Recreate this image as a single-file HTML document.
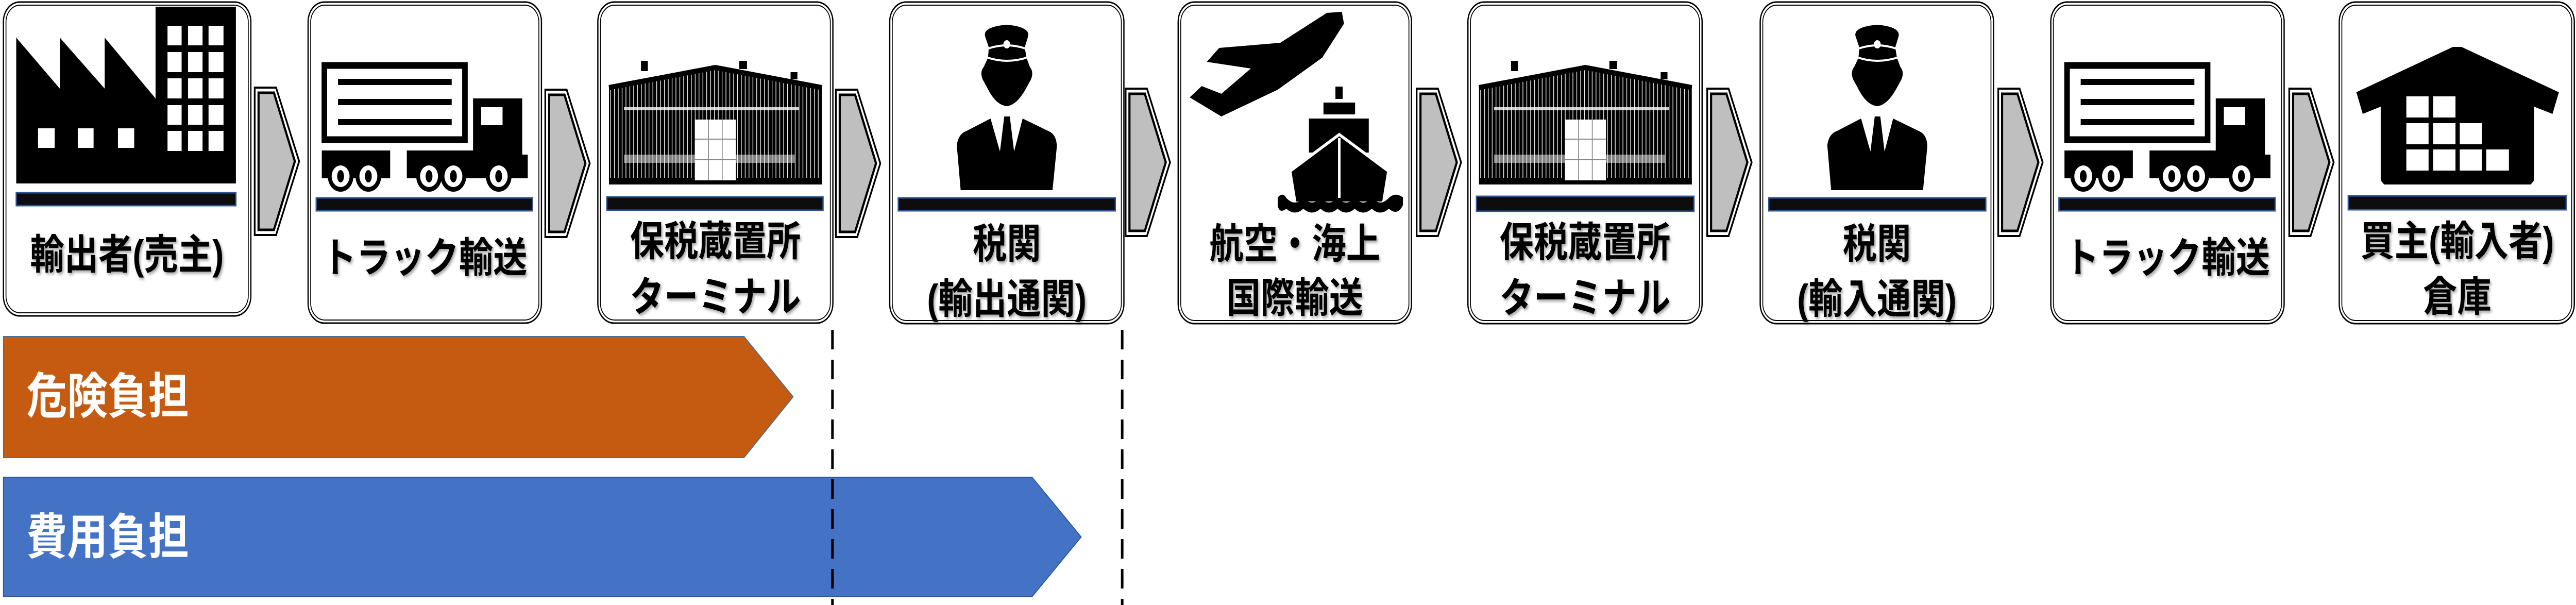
<!DOCTYPE html>
<html><head><meta charset="utf-8"><style>
html,body{margin:0;padding:0;background:#fff;overflow:hidden;width:100%;height:100%;}
svg{display:block;position:absolute;left:0;top:0;width:100vw;height:100vh;}
.t{font-family:"Liberation Sans","Noto Sans CJK JP",sans-serif;font-weight:bold;font-size:80px;fill:#000;text-anchor:middle;}
.w{font-family:"Liberation Sans","Noto Sans CJK JP",sans-serif;font-weight:bold;font-size:95px;fill:#fff;}
</style></head><body>
<svg viewBox="0 0 6028 1174" preserveAspectRatio="none" xmlns="http://www.w3.org/2000/svg">
<defs>
<filter id="sh" x="-10%" y="-10%" width="130%" height="130%"><feDropShadow dx="3" dy="4" stdDeviation="3" flood-color="#000" flood-opacity="0.35"/></filter>
<pattern id="stripe" width="9" height="10" patternUnits="userSpaceOnUse"><rect width="9" height="10" fill="#000"/><rect x="6" width="1.5" height="10" fill="#fff"/></pattern>
<g id="arrow">
<polygon points="0,0 50,0 104,143 50,286 0,286" fill="#fff" stroke="#000" stroke-width="4"/>
<polygon points="9,10 45,10 94,143 45,276 9,276" fill="#bfbfbf" stroke="#000" stroke-width="5"/>
</g>
<g id="officer">
<path d="M2305,70 Q2300,52 2356,48 Q2410,52 2406,70 L2398,92 Q2356,82 2314,92 Z" fill="#000"/>
<path d="M2314,92 Q2356,82 2398,92 L2402,112 Q2356,122 2312,112 Z" fill="#000"/>
<path d="M2312,112 Q2356,122 2402,112 L2410,130 Q2420,140 2412,155 L2402,170 Q2380,204 2356,206 Q2330,204 2310,170 L2300,155 Q2292,140 2302,130 Z" fill="#000"/>
<path d="M2313,94 Q2356,82 2399,94" fill="none" stroke="#fff" stroke-width="4"/>
<path d="M2312,112 Q2356,124 2402,112" fill="none" stroke="#fff" stroke-width="4"/>
<circle cx="2356" cy="86" r="8" fill="#fff"/>
<path d="M2239,282 Q2242,260 2262,254 L2318,230 L2340,294 L2350,226 L2363,226 L2373,294 L2393,230 L2455,255 Q2473,262 2473,285 L2463,369 L2248,369 Z" fill="#000"/>
</g>
<g id="wh">
<polygon points="1425,168 1674,131 1923,168 1923,358 1425,358" fill="url(#stripe)"/>
<polyline points="1425,170 1674,131 1923,170" fill="none" stroke="#000" stroke-width="10"/>
<rect x="1500" y="118" width="16" height="20" fill="#000"/><rect x="1730" y="118" width="18" height="16" fill="#000"/><rect x="1850" y="140" width="16" height="14" fill="#000"/>
<rect x="1425" y="345" width="498" height="13" fill="#000"/>
<g fill="#fff"><rect x="1460" y="208" width="410" height="6" opacity=".8"/><rect x="1460" y="300" width="400" height="16" opacity=".5"/></g>
<rect x="1626" y="232" width="96" height="118" fill="#fff"/>
<g stroke="#888" stroke-width="2"><line x1="1658" y1="232" x2="1658" y2="350"/><line x1="1690" y1="232" x2="1690" y2="350"/><line x1="1626" y1="270" x2="1722" y2="270"/><line x1="1626" y1="310" x2="1722" y2="310"/></g>
</g>
<g id="truck">
<rect x="759" y="127" width="329" height="144" fill="#fff" stroke="#000" stroke-width="13"/>
<rect x="791" y="153" width="266" height="12" fill="#000"/><rect x="791" y="192" width="266" height="12" fill="#000"/><rect x="791" y="231" width="266" height="12" fill="#000"/>
<path d="M1107,191 L1222,191 L1222,300 L1235,300 L1235,346 L952,346 L952,292 L1107,292 Z" fill="#000"/>
<rect x="1126" y="208" width="50" height="35" fill="#fff"/>
<rect x="753" y="292" width="160" height="54" fill="#000"/>
<g><circle cx="797" cy="342" r="30" fill="#000"/><circle cx="797" cy="342" r="21" fill="#fff"/><ellipse cx="797" cy="342" rx="8" ry="12" fill="#000"/></g>
<g><circle cx="862" cy="342" r="30" fill="#000"/><circle cx="862" cy="342" r="21" fill="#fff"/><ellipse cx="862" cy="342" rx="8" ry="12" fill="#000"/></g>
<g><circle cx="1004" cy="342" r="30" fill="#000"/><circle cx="1004" cy="342" r="21" fill="#fff"/><ellipse cx="1004" cy="342" rx="8" ry="12" fill="#000"/></g>
<g><circle cx="1061" cy="342" r="30" fill="#000"/><circle cx="1061" cy="342" r="21" fill="#fff"/><ellipse cx="1061" cy="342" rx="8" ry="12" fill="#000"/></g>
<g><circle cx="1167" cy="342" r="30" fill="#000"/><circle cx="1167" cy="342" r="21" fill="#fff"/><ellipse cx="1167" cy="342" rx="8" ry="12" fill="#000"/></g>
</g>
</defs>

<g fill="#fff" stroke="#000">
<g stroke-width="3"><rect x="8" y="4" width="579" height="609" rx="38"/><rect x="721" y="4" width="546" height="623" rx="38"/><rect x="1399" y="4" width="550" height="623" rx="38"/><rect x="2082" y="4" width="548" height="624" rx="38"/><rect x="2757" y="4" width="546" height="624" rx="38"/><rect x="3435" y="4" width="548" height="624" rx="38"/><rect x="4119" y="4" width="546" height="624" rx="38"/><rect x="4799" y="4" width="546" height="624" rx="38"/><rect x="5474" y="4" width="550" height="624" rx="38"/></g>
<g stroke-width="2"><rect x="14" y="10" width="567" height="597" rx="33"/><rect x="727" y="10" width="534" height="611" rx="33"/><rect x="1405" y="10" width="538" height="611" rx="33"/><rect x="2088" y="10" width="536" height="612" rx="33"/><rect x="2763" y="10" width="534" height="612" rx="33"/><rect x="3441" y="10" width="536" height="612" rx="33"/><rect x="4125" y="10" width="534" height="612" rx="33"/><rect x="4805" y="10" width="534" height="612" rx="33"/><rect x="5480" y="10" width="538" height="612" rx="33"/></g>
</g>

<g fill="#0d0d0d" stroke="#2f5597" stroke-width="3">
<rect x="38" y="374" width="514" height="25"/>
<rect x="740" y="384" width="506" height="25"/>
<rect x="1420" y="382" width="506" height="26"/>
<rect x="2102" y="384" width="508" height="25"/>
<rect x="3455" y="381" width="509" height="29"/>
<rect x="4139" y="384" width="508" height="25"/>
<rect x="4818" y="384" width="506" height="25"/>
<rect x="5495" y="380" width="510" height="27"/>
</g>

<path d="M38,356 L38,73 L140,172 L140,73 L245,172 L245,73 L364,191 L364,13 L552,13 L552,356 Z" fill="#000"/>
<g fill="#fff">
<rect x="392" y="50" width="33" height="38"/><rect x="440" y="50" width="34" height="38"/><rect x="488" y="50" width="35" height="38"/>
<rect x="392" y="101" width="33" height="39"/><rect x="440" y="101" width="34" height="39"/><rect x="488" y="101" width="35" height="39"/>
<rect x="392" y="152" width="33" height="39"/><rect x="440" y="152" width="34" height="39"/><rect x="488" y="152" width="35" height="39"/>
<rect x="392" y="204" width="33" height="38"/><rect x="440" y="204" width="34" height="38"/><rect x="488" y="204" width="35" height="38"/>
<rect x="392" y="254" width="33" height="39"/><rect x="440" y="254" width="34" height="39"/><rect x="488" y="254" width="35" height="39"/>
<rect x="89" y="249" width="39" height="38"/><rect x="182" y="249" width="37" height="38"/><rect x="276" y="249" width="38" height="38"/>
</g>

<use href="#truck"/>
<use href="#truck" transform="translate(4078,0)"/>
<use href="#wh"/>
<use href="#wh" transform="translate(2036,0)"/>
<use href="#officer"/>
<use href="#officer" transform="translate(2037,0)"/>

<polygon points="2784,189 2812,167 2858,182 2927,133 2824,120 2853,93 2996,83 3105,25 3140,23 3145,46 3094,112 2990,174 2858,226" fill="#000"/>
<rect x="3125" y="168" width="17" height="24" fill="#000"/>
<rect x="3097" y="199" width="74" height="23" fill="#000"/>
<rect x="3063" y="230" width="140" height="66" fill="#000"/>
<polygon points="3134,261 3249,332 3237,394 3031,394 3019,332" fill="#000" stroke="#fff" stroke-width="6"/>
<line x1="3134" y1="268" x2="3134" y2="384" stroke="#fff" stroke-width="6"/>
<path d="M2990,383 Q3002,372 3010,384 Q3030,402 3050,384 Q3070,402 3090,384 Q3110,402 3130,384 Q3150,402 3170,384 Q3190,402 3210,384 Q3230,402 3250,384 Q3265,372 3283,383 L3283,398 Q3270,420 3250,405 Q3230,420 3210,405 Q3190,420 3170,405 Q3150,420 3130,405 Q3110,420 3090,405 Q3070,420 3050,405 Q3030,420 3010,405 Q2995,415 2990,400 Z" fill="#000"/>

<polygon points="5514,179 5740,91 5760,91 5988,179 5973,221 5930,207 5930,350 5922,358 5579,358 5571,350 5571,207 5529,221" fill="#000"/>
<g fill="#fff">
<rect x="5631" y="187" width="52" height="41"/><rect x="5694" y="187" width="52" height="41"/>
<rect x="5631" y="239" width="52" height="41"/><rect x="5694" y="239" width="52" height="41"/><rect x="5756" y="239" width="52" height="41"/>
<rect x="5631" y="290" width="52" height="41"/><rect x="5694" y="290" width="52" height="41"/><rect x="5756" y="290" width="52" height="41"/><rect x="5818" y="290" width="53" height="41"/>
</g>

<use href="#arrow" transform="translate(596,170)"/>
<use href="#arrow" transform="translate(1276,174)"/>
<use href="#arrow" transform="translate(1956,174)"/>
<use href="#arrow" transform="translate(2634,172)"/>
<use href="#arrow" transform="translate(3315,172)"/>
<use href="#arrow" transform="translate(3995,172)"/>
<use href="#arrow" transform="translate(4676,172)"/>
<use href="#arrow" transform="translate(5357,172)"/>

<g class="t" filter="url(#sh)">
<text x="297" y="522">輸出者(売主)</text>
<text x="994" y="528">トラック輸送</text>
<text x="1674" y="496">保税蔵置所</text>
<text x="1674" y="604">ターミナル</text>
<text x="2356" y="501">税関</text>
<text x="2356" y="608">(輸出通関)</text>
<text x="3030" y="501">航空・海上</text>
<text x="3030" y="606">国際輸送</text>
<text x="3709" y="498">保税蔵置所</text>
<text x="3709" y="606">ターミナル</text>
<text x="4392" y="501">税関</text>
<text x="4392" y="608">(輸入通関)</text>
<text x="5072" y="528">トラック輸送</text>
<text x="5750" y="496">買主(輸入者)</text>
<text x="5750" y="604">倉庫</text>
</g>

<polygon points="8,653 1741,653 1856,770 1741,888 8,888" fill="#C55A11" stroke="#41719C" stroke-width="2"/>
<polygon points="8,926 2415,926 2530,1042 2415,1158 8,1158" fill="#4472C4" stroke="#2f5597" stroke-width="2"/>
<text class="w" x="62" y="802">危険負担</text>
<text class="w" x="62" y="1075">費用負担</text>

<line x1="1948" y1="640" x2="1948" y2="1174" stroke="#000" stroke-width="6" stroke-dasharray="38,20"/>
<line x1="2626" y1="640" x2="2626" y2="1174" stroke="#000" stroke-width="6" stroke-dasharray="38,20"/>
</svg>
</body></html>
